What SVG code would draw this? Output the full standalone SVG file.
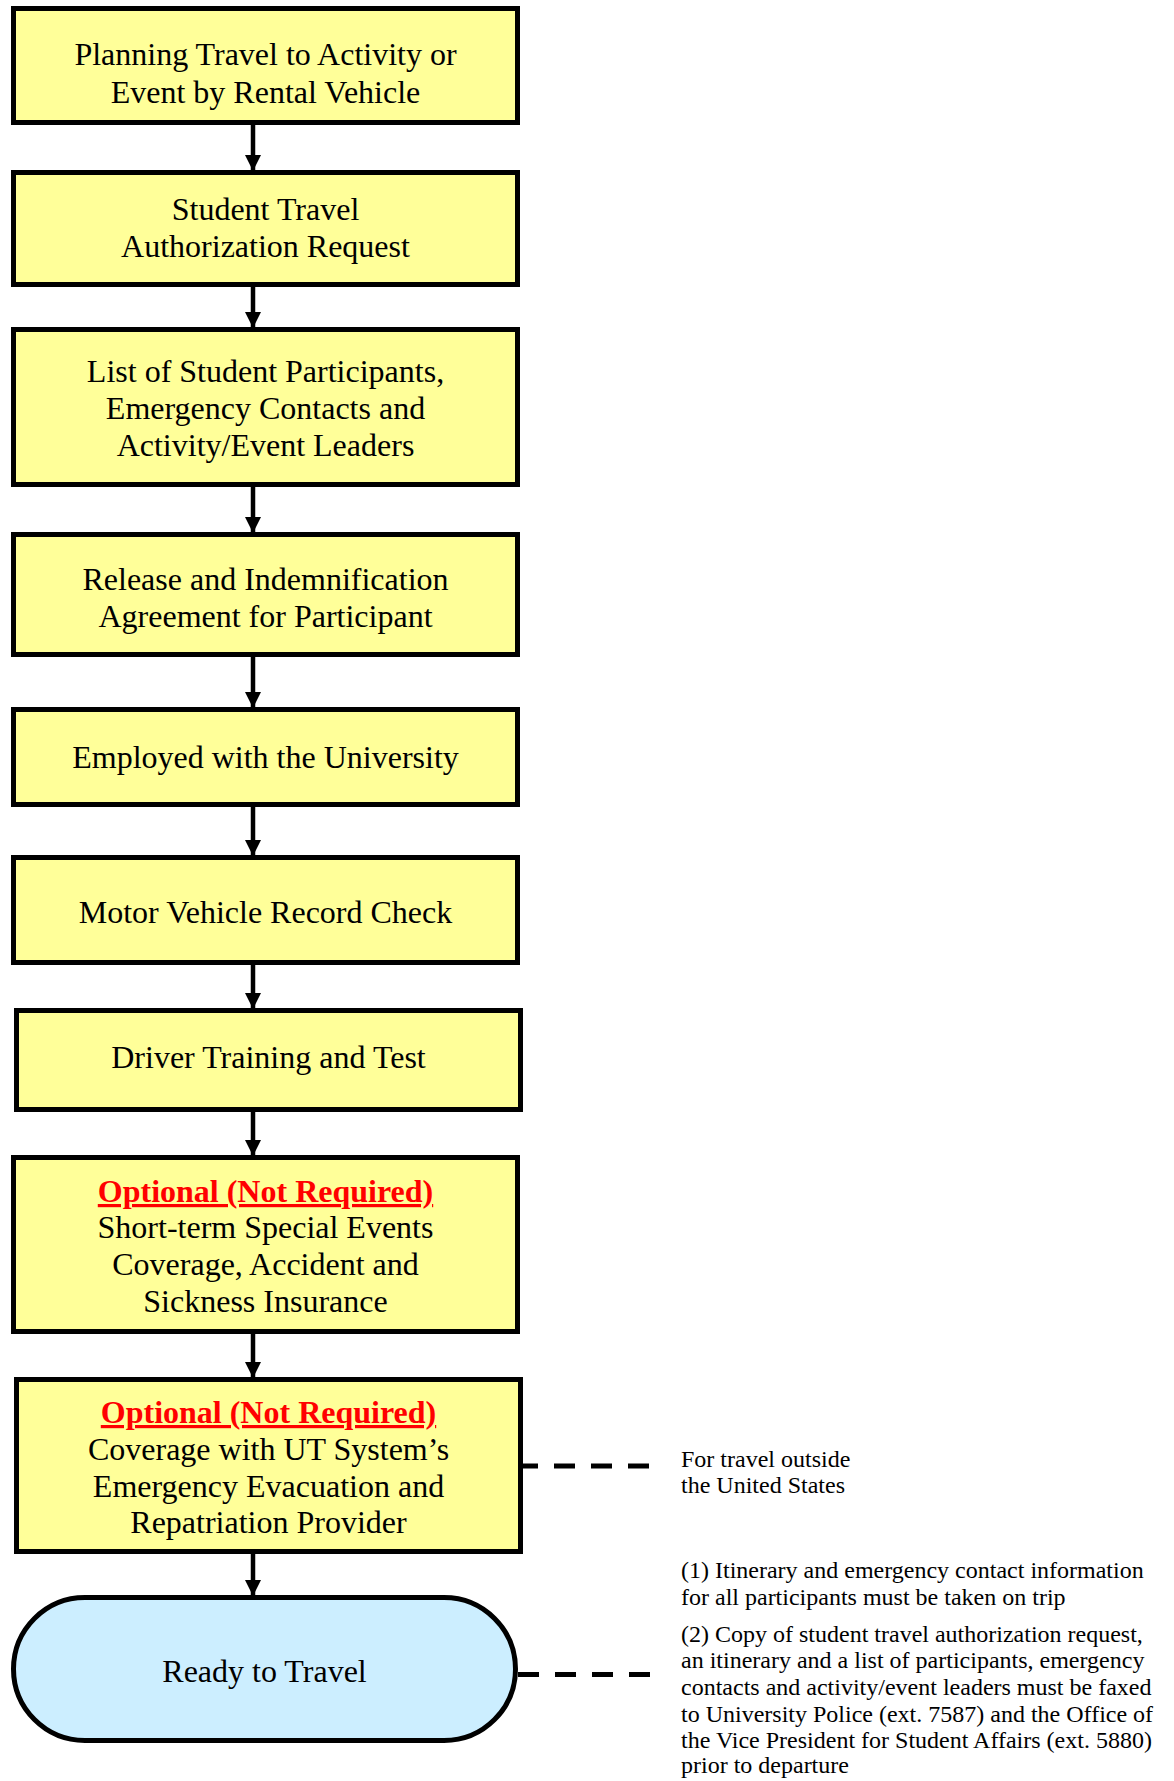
<svg xmlns="http://www.w3.org/2000/svg" width="1174" height="1781" viewBox="0 0 1174 1781">
<style>
.box{fill:#ffff99;stroke:#000;stroke-width:5}
.term{fill:#cceeff;stroke:#000;stroke-width:5}
.t{font-family:"Liberation Serif","Times New Roman",serif;font-size:32px;fill:#000;text-anchor:middle}
.opt{font-weight:bold;fill:#ff0000;text-decoration:underline}
.note{font-family:"Liberation Serif","Times New Roman",serif;font-size:24px;fill:#000}
.arr{stroke:#000;stroke-width:4.5;fill:none}
.dash{stroke:#000;stroke-width:5;fill:none;stroke-dasharray:21 16}
</style>
<defs>
<marker id="ah" markerUnits="userSpaceOnUse" markerWidth="18" markerHeight="16" refX="16" refY="8" orient="auto">
<path d="M0,0 L16,8 L0,16 Z" fill="#000"/>
</marker>
</defs>
<g id="connectors">
<line class="arr" x1="253" y1="125" x2="253" y2="171" marker-end="url(#ah)"/>
<line class="arr" x1="253" y1="287" x2="253" y2="328" marker-end="url(#ah)"/>
<line class="arr" x1="253" y1="487" x2="253" y2="533" marker-end="url(#ah)"/>
<line class="arr" x1="253" y1="657" x2="253" y2="708" marker-end="url(#ah)"/>
<line class="arr" x1="253" y1="807" x2="253" y2="856" marker-end="url(#ah)"/>
<line class="arr" x1="253" y1="965" x2="253" y2="1009" marker-end="url(#ah)"/>
<line class="arr" x1="253" y1="1112" x2="253" y2="1156" marker-end="url(#ah)"/>
<line class="arr" x1="253" y1="1334" x2="253" y2="1378" marker-end="url(#ah)"/>
<line class="arr" x1="253" y1="1554" x2="253" y2="1596" marker-end="url(#ah)"/>
<line class="dash" x1="517" y1="1466" x2="651" y2="1466"/>
<line class="dash" x1="518" y1="1674.5" x2="653" y2="1674.5"/>
</g>
<g id="n1">
<rect class="box" x="13.5" y="8.5" width="504" height="114"/>
<text class="t" x="265.5" y="65">Planning Travel to Activity or</text>
<text class="t" x="265.5" y="103">Event by Rental Vehicle</text>
</g>
<g id="n2">
<rect class="box" x="13.5" y="172.5" width="504" height="112"/>
<text class="t" x="265.5" y="220">Student Travel</text>
<text class="t" x="265.5" y="257">Authorization Request</text>
</g>
<g id="n3">
<rect class="box" x="13.5" y="329.5" width="504" height="155"/>
<text class="t" x="265.5" y="382">List of Student Participants,</text>
<text class="t" x="265.5" y="419">Emergency Contacts and</text>
<text class="t" x="265.5" y="456">Activity/Event Leaders</text>
</g>
<g id="n4">
<rect class="box" x="13.5" y="534.5" width="504" height="120"/>
<text class="t" x="265.5" y="590">Release and Indemnification</text>
<text class="t" x="265.5" y="627">Agreement for Participant</text>
</g>
<g id="n5">
<rect class="box" x="13.5" y="709.5" width="504" height="95"/>
<text class="t" x="265.5" y="768">Employed with the University</text>
</g>
<g id="n6">
<rect class="box" x="13.5" y="857.5" width="504" height="105"/>
<text class="t" x="265.5" y="923">Motor Vehicle Record Check</text>
</g>
<g id="n7">
<rect class="box" x="16.5" y="1010.5" width="504" height="99"/>
<text class="t" x="268.5" y="1068">Driver Training and Test</text>
</g>
<g id="n8">
<rect class="box" x="13.5" y="1157.5" width="504" height="174"/>
<text class="t opt" x="265.5" y="1202">Optional (Not Required)</text>
<text class="t" x="265.5" y="1238">Short-term Special Events</text>
<text class="t" x="265.5" y="1275">Coverage, Accident and</text>
<text class="t" x="265.5" y="1312">Sickness Insurance</text>
</g>
<g id="n9">
<rect class="box" x="16.5" y="1379.5" width="504" height="172"/>
<text class="t opt" x="268.5" y="1423">Optional (Not Required)</text>
<text class="t" x="268.5" y="1460">Coverage with UT System’s</text>
<text class="t" x="268.5" y="1497">Emergency Evacuation and</text>
<text class="t" x="268.5" y="1533">Repatriation Provider</text>
</g>
<g id="n10">
<rect class="term" x="13.5" y="1597.5" width="502" height="143" rx="71.5" ry="71.5"/>
<text class="t" x="264.5" y="1682">Ready to Travel</text>
</g>
<g id="note1">
<text class="note" x="681" y="1467">For travel outside</text>
<text class="note" x="681" y="1493">the United States</text>
</g>
<g id="note2">
<text class="note" x="681" y="1578">(1) Itinerary and emergency contact information</text>
<text class="note" x="681" y="1605">for all participants must be taken on trip</text>
<text class="note" x="681" y="1642">(2) Copy of student travel authorization request,</text>
<text class="note" x="681" y="1668">an itinerary and a list of participants, emergency</text>
<text class="note" x="681" y="1695">contacts and activity/event leaders must be faxed</text>
<text class="note" x="681" y="1722">to University Police (ext. 7587) and the Office of</text>
<text class="note" x="681" y="1748">the Vice President for Student Affairs (ext. 5880)</text>
<text class="note" x="681" y="1773">prior to departure</text>
</g>
</svg>
